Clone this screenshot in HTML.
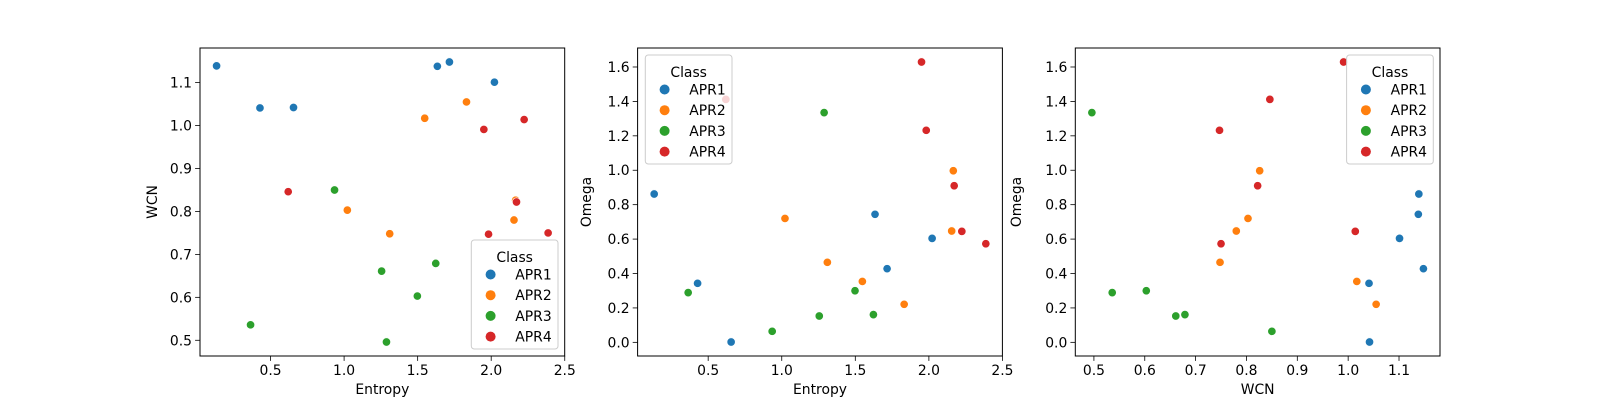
<!DOCTYPE html>
<html><head><meta charset="utf-8">
<style>
html,body{margin:0;padding:0;background:#fff;}
svg{display:block;font-family:"DejaVu Sans","Liberation Sans",sans-serif;}
</style></head>
<body>
<svg id="fig" width="1600" height="400" viewBox="0 0 1600 400" xmlns="http://www.w3.org/2000/svg"></svg>
<script>
const classes = ["APR1","APR2","APR3","APR4"];
const colors = ["#1f77b4","#ff7f0e","#2ca02c","#d62728"];
const entropyAPR1 = [0.133,0.428,0.656,1.634,1.716,2.022];
const wcnAPR1     = [1.139,1.041,1.042,1.138,1.148,1.101];
const omegaAPR1   = [0.862,0.343,0.002,0.744,0.428,0.604];
const entropyAPR2 = [1.548,1.832,1.022,1.310,2.166,2.155];
const wcnAPR2     = [1.017,1.055,0.803,0.748,0.826,0.780];
const omegaAPR2   = [0.354,0.221,0.720,0.465,0.997,0.647];
const entropyAPR3 = [0.364,0.935,1.255,1.288,1.498,1.623];
const wcnAPR3     = [0.536,0.850,0.661,0.496,0.603,0.679];
const omegaAPR3   = [0.289,0.064,0.153,1.335,0.300,0.161];
const entropyAPR4 = [0.620,1.950,2.224,2.172,1.982,2.387];
const wcnAPR4     = [0.846,0.991,1.014,0.822,0.747,0.750];
const omegaAPR4   = [1.412,1.629,0.645,0.910,1.232,0.573];
const entropyTicks = [0.5,1.0,1.5,2.0,2.5];
const wcnTicks = [0.5,0.6,0.7,0.8,0.9,1.0,1.1];
const omegaTicks = [0.0,0.2,0.4,0.6,0.8,1.0,1.2,1.4,1.6];

const entropy=[entropyAPR1,entropyAPR2,entropyAPR3,entropyAPR4];
const wcn=[wcnAPR1,wcnAPR2,wcnAPR3,wcnAPR4];
const omega=[omegaAPR1,omegaAPR2,omegaAPR3,omegaAPR4];

const NS="http://www.w3.org/2000/svg";
const fig=document.getElementById('fig');
function mk(tag,attrs,parent,text){const e=document.createElementNS(NS,tag);for(const k in attrs)e.setAttribute(k,attrs[k]);if(text!==undefined)e.textContent=text;(parent||fig).appendChild(e);return e;}
function range(groups){let a=Infinity,b=-Infinity;groups.forEach(g=>g.forEach(v=>{a=Math.min(a,v);b=Math.max(b,v);}));const p=(b-a)*0.05;return [a-p,b+p];}
function fmt(v,dec){return v.toFixed(dec);}

const axTop=48, axBot=356;
const panels=[
 {name:"entropy-vs-wcn",x0:200,x1:564.7,xs:entropy,ys:wcn,xt:entropyTicks,yt:wcnTicks,xd:1,yd:1,xl:"Entropy",yl:"WCN",ylx:157,leg:"lr"},
 {name:"entropy-vs-omega",x0:637.6,x1:1002.4,xs:entropy,ys:omega,xt:entropyTicks,yt:omegaTicks,xd:1,yd:1,xl:"Entropy",yl:"Omega",ylx:591,leg:"ul"},
 {name:"wcn-vs-omega",x0:1075.3,x1:1440,xs:wcn,ys:omega,xt:wcnTicks,yt:omegaTicks,xd:1,yd:1,xl:"WCN",yl:"Omega",ylx:1021,leg:"ur"}
];
panels.forEach((P)=>{
  const g=mk('g',{});
  
  
  const [xa,xb]=range(P.xs),[ya,yb]=range(P.ys);
  const X=v=>P.x0+(v-xa)/(xb-xa)*(P.x1-P.x0);
  const Y=v=>axBot-(v-ya)/(yb-ya)*(axBot-axTop);
  const pts=mk('g',{},g);
  
  
  for(let c=0;c<4;c++){
    for(let i=0;i<P.xs[c].length;i++){
      const p=mk('circle',{cx:X(P.xs[c][i]),cy:Y(P.ys[c][i]),r:4.2,fill:colors[c],stroke:'#fff','stroke-width':0.7},pts);
      
      
    }
  }
  const fr=mk('rect',{x:P.x0,y:axTop,width:P.x1-P.x0,height:axBot-axTop,fill:'none',stroke:'#000','stroke-width':1},g);
  
  
  const xg=mk('g',{},g);
  
  
  P.xt.forEach(t=>{const x=X(t);if(x<P.x0-0.5||x>P.x1+0.5)return;
    mk('line',{x1:x,x2:x,y1:axBot,y2:axBot+4.9,stroke:'#000','stroke-width':0.8},xg);
    const tl=mk('text',{x:x,y:axBot+19,'font-size':13.9,'text-anchor':'middle',fill:'#000'},xg,fmt(t,P.xd));
    
    
  });
  const xt=mk('text',{x:(P.x0+P.x1)/2,y:axBot+38,'font-size':13.9,'text-anchor':'middle'},xg,P.xl);
  
  
  const yg=mk('g',{},g);
  
  
  P.yt.forEach(t=>{const y=Y(t);if(y<axTop-0.5||y>axBot+0.5)return;
    mk('line',{x1:P.x0-4.9,x2:P.x0,y1:y,y2:y,stroke:'#000','stroke-width':0.8},yg);
    const tl=mk('text',{x:P.x0-8,y:y+5,'font-size':13.9,'text-anchor':'end'},yg,fmt(t,P.yd));
    
    
  });
  const cyM=(axTop+axBot)/2;
  const yt=mk('text',{x:P.ylx,y:cyM,'font-size':13.9,'text-anchor':'middle',transform:`rotate(-90 ${P.ylx} ${cyM})`},yg,P.yl);
  
  
  const W=86.7,H=109;
  let L,T;
  if(P.leg==='lr'){L=P.x1-6.7-W;T=axBot-7-H;}
  else if(P.leg==='ul'){L=P.x0+7.7;T=axTop+7;}
  else {L=P.x1-6.7-W;T=axTop+7;}
  const lg=mk('g',{},g);
  
  
  mk('rect',{x:L,y:T,width:W,height:H,rx:3,fill:'#fff','fill-opacity':0.8,stroke:'#cccccc','stroke-width':1},lg);
  const lt=mk('text',{x:L+W/2,y:T+22,'font-size':13.9,'text-anchor':'middle'},lg,'Class');
  
  
  for(let c=0;c<4;c++){
    const cy=T+34.5+c*20.7;
    const e=mk('g',{},lg);
    
    
    mk('circle',{cx:L+19.3,cy:cy,r:5,fill:colors[c]},e);
    mk('text',{x:L+44,y:cy+5,'font-size':13.9},e,classes[c]);
  }
});
</script>
</body></html>
